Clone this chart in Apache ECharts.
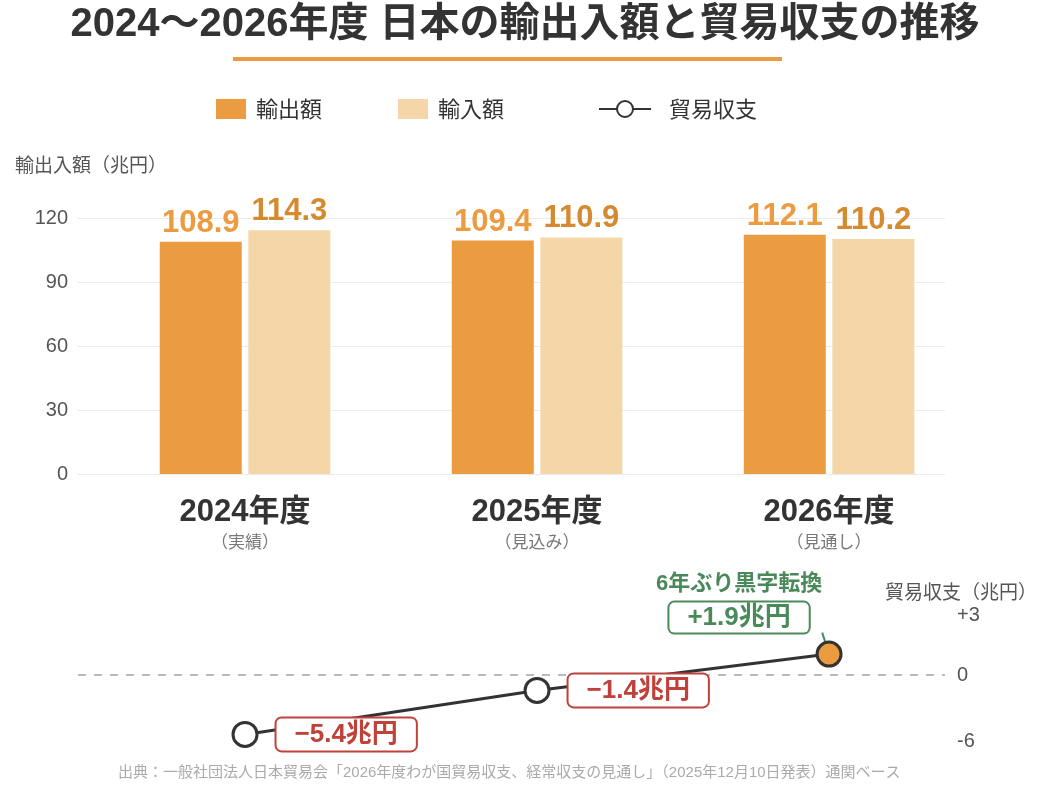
<!DOCTYPE html>
<html>
<head>
<meta charset="utf-8">
<script src="https://cdn.jsdelivr.net/npm/echarts@6/dist/echarts.min.js"></script>
<style>
  html, body { margin: 0; padding: 0; background: #fff; }
  #chart { width: 1050px; height: 790px; }
</style>
</head>
<body>
<div id="chart"></div>
<script>
// 年度とラベル
var years = ['2024年度', '2025年度', '2026年度'];
var yearNotes = ['（実績）', '（見込み）', '（見通し）'];
// 兆円
var exportValues = [108.9, 109.4, 112.1];
var importValues = [114.3, 110.9, 110.2];
var balanceValues = [-5.4, -1.4, 1.9];
var leftTicks = [0, 30, 60, 90, 120];
var rightTicks = [-6, 0, 3];

var FONT = '"Noto Sans CJK JP", "Noto Sans", sans-serif';
var NUMFONT = '"Liberation Sans", "Noto Sans CJK JP", sans-serif';
var ORANGE = '#EB9B40';
var LIGHT = '#F5D6A8';
var RED = '#C0403A';
var GREEN = '#4A8A5A';

var myChart = echarts.init(document.getElementById('chart'));

// x位置は 0,1,2 を値軸で置く（グリッド線の端と中心を合わせるため）
var xMin = -0.572, xMax = 2.397;

function toXY(arr) {
    return arr.map(function (v, i) { return [i, v]; });
}

function balanceText(v) {
    var s = v < 0 ? '−' + Math.abs(v).toFixed(1) : '+' + v.toFixed(1);
    return s + '兆円';
}

var balanceData = balanceValues.map(function (v, i) {
    var item = { value: [i, v] };
    if (v > 0) {
        item.itemStyle = { color: ORANGE };
        item.label = {
            show: true,
            position: 'top',
            distance: 8,
            offset: [-90, 0],
            borderWidth: 0,
            backgroundColor: 'transparent',
            padding: 0,
            formatter: '{h|6年ぶり黒字転換}\n{g|' + balanceText(v) + '}',
            rich: {
                h: { fontFamily: NUMFONT, fontSize: 22, fontWeight: 'bold', color: GREEN, lineHeight: 38, align: 'center' },
                g: {
                    fontFamily: NUMFONT, fontSize: 26, fontWeight: 'bold', color: GREEN,
                    borderColor: GREEN, borderWidth: 2, borderRadius: 5,
                    backgroundColor: '#fff', padding: [2, 18, 2, 18], align: 'center', lineHeight: 30
                }
            }
        };
        item.labelLine = { show: true, lineStyle: { color: GREEN, width: 2 } };
    }
    return item;
});

var option = {
    backgroundColor: '#fff',
    textStyle: { fontFamily: FONT },
    title: {
        text: '2024〜2026年度 日本の輸出入額と貿易収支の推移',
        left: 'center',
        top: 0,
        textStyle: { fontFamily: NUMFONT, fontSize: 40, fontWeight: 'bold', color: '#333' }
    },
    legend: [
        {
            data: ['輸出額'], left: 216, top: 98, padding: 0, itemWidth: 30, itemHeight: 20, icon: 'rect',
            textStyle: { fontFamily: FONT, fontSize: 22, color: '#333', padding: [0, 0, 0, 5] }
        },
        {
            data: ['輸入額'], left: 398, top: 98, padding: 0, itemWidth: 30, itemHeight: 20, icon: 'rect',
            textStyle: { fontFamily: FONT, fontSize: 22, color: '#333', padding: [0, 0, 0, 5] }
        },
        {
            data: ['貿易収支'], left: 598, top: 98, padding: 0, itemWidth: 52, itemHeight: 20,
            textStyle: { fontFamily: FONT, fontSize: 22, color: '#333', padding: [0, 0, 0, 13] }
        }
    ],
    graphic: [
        { type: 'rect', shape: { x: 233, y: 57, width: 549, height: 4 }, style: { fill: ORANGE } },
        { type: 'text', left: 15, top: 155, style: { text: '輸出入額（兆円）', fontFamily: FONT, fontSize: 19, fill: '#555' } },
        { type: 'text', left: 885, top: 582, style: { text: '貿易収支（兆円）', fontFamily: FONT, fontSize: 19, fill: '#555' } },
        {
            type: 'text', left: 118, top: 765,
            style: {
                text: '出典：一般社団法人日本貿易会「2026年度わが国貿易収支、経常収支の見通し」（2025年12月10日発表）通関ベース',
                fontFamily: NUMFONT, fontSize: 15, fill: '#aaa'
            }
        }
    ],
    grid: [
        { left: 78, right: 105, top: 218, bottom: 316 },
        { left: 78, right: 105, top: 642, bottom: 49 }
    ],
    xAxis: [
        {
            type: 'value', gridIndex: 0, min: xMin, max: xMax,
            splitLine: { show: false }, axisLine: { show: false }, axisTick: { show: false },
            axisLabel: {
                customValues: [0, 1, 2],
                margin: 20,
                formatter: function (v) {
                    var i = Math.round(v);
                    return '{y|' + years[i] + '}\n{n|' + yearNotes[i] + '}';
                },
                rich: {
                    y: { fontFamily: NUMFONT, fontSize: 31, fontWeight: 'bold', color: '#333', lineHeight: 36 },
                    n: { fontFamily: FONT, fontSize: 17, color: '#777', lineHeight: 24 }
                }
            }
        },
        {
            type: 'value', gridIndex: 1, min: xMin, max: xMax, show: false
        }
    ],
    yAxis: [
        {
            type: 'value', gridIndex: 0, min: 0, max: 120, interval: 30,
            axisLine: { show: false }, axisTick: { show: false },
            axisLabel: { fontFamily: NUMFONT, fontSize: 20, color: '#555', margin: 10 },
            splitLine: { lineStyle: { color: '#ebebeb', width: 1 } }
        },
        {
            type: 'value', gridIndex: 1, position: 'right', min: -6, max: 3, interval: 3,
            axisLine: { show: false }, axisTick: { show: false }, splitLine: { show: false },
            axisLabel: {
                customValues: rightTicks,
                fontFamily: NUMFONT, fontSize: 20, color: '#555', margin: 12,
                formatter: function (v) {
                    if (v > 0) return '{up|+' + v + '}';
                    return '' + v;
                },
                rich: { up: { fontFamily: NUMFONT, fontSize: 20, color: '#555', padding: [0, 0, 54, 0] } }
            }
        }
    ],
    series: [
        {
            name: '輸出額', type: 'bar', xAxisIndex: 0, yAxisIndex: 0,
            data: toXY(exportValues), barWidth: 82, barGap: '8%',
            itemStyle: { color: ORANGE },
            label: {
                show: true, position: 'top', distance: 3,
                fontFamily: NUMFONT, fontSize: 31, fontWeight: 'bold', color: ORANGE,
                formatter: function (p) { return p.value[1].toFixed(1); }
            }
        },
        {
            name: '輸入額', type: 'bar', xAxisIndex: 0, yAxisIndex: 0,
            data: toXY(importValues), barWidth: 82, barGap: '8%',
            itemStyle: { color: LIGHT },
            label: {
                show: true, position: 'top', distance: 3,
                fontFamily: NUMFONT, fontSize: 31, fontWeight: 'bold', color: '#D58A30',
                formatter: function (p) { return p.value[1].toFixed(1); }
            }
        },
        {
            name: '貿易収支', type: 'line', xAxisIndex: 1, yAxisIndex: 1,
            data: balanceData,
            symbol: 'circle', symbolSize: 24,
            lineStyle: { color: '#333', width: 3 },
            itemStyle: { color: '#fff', borderColor: '#333', borderWidth: 3 },
            label: {
                show: true, position: 'right', distance: 18,
                formatter: function (p) { return balanceText(p.value[1]); },
                fontFamily: NUMFONT, fontSize: 26, fontWeight: 'bold', color: RED,
                borderColor: RED, borderWidth: 2, borderRadius: 5,
                backgroundColor: '#fff', padding: [1, 18, 1, 18], lineHeight: 30
            },
            markLine: {
                silent: true, symbol: 'none', label: { show: false },
                lineStyle: { color: '#bbb', type: [8, 8], width: 2 },
                data: [{ yAxis: 0 }]
            },
            z: 5
        }
    ]
};

myChart.setOption(option);
</script>
</body>
</html>
